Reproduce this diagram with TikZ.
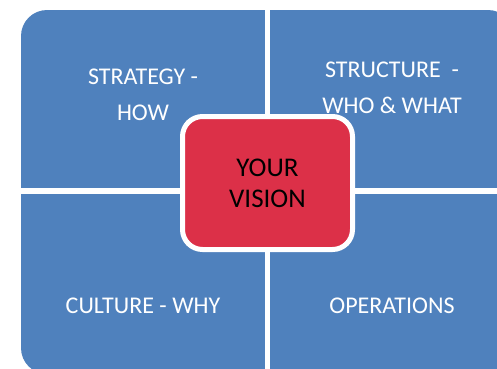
\documentclass[tikz,border=0pt]{standalone}
\usepackage{fontspec}
\setmainfont{Carlito}
\definecolor{quadblue}{RGB}{79,129,189}
\definecolor{visionred}{RGB}{220,48,72}

\begin{document}
\begin{tikzpicture}[
        x=1pt, y=-1pt,
        quadlabel/.style={text=white, align=center, font=\fontsize{24}{36}\selectfont},
        vision/.style={draw=white, line width=5pt, fill=visionred, rounded corners=20pt, minimum width=170pt, minimum height=133pt, align=center, font=\fontsize{27}{31}\selectfont}
    ]
    \useasboundingbox (0,0) rectangle (497,368);
    \clip (0,0) rectangle (497,368);

    % Quadrants
    \fill[quadblue, rounded corners=26pt] (21,10) rectangle (514,374);
    \fill[white] (265,0) rectangle (270,374);
    \fill[white] (0,188) rectangle (514,194);

    % Nodes
    \node[quadlabel] (strategy) at (143,95) {STRATEGY -\\HOW};
    \node[quadlabel] (structure) at (392,88) {STRUCTURE~~-\\WHO \& WHAT};
    \node[quadlabel] (culture) at (143,306) {CULTURE - WHY};
    \node[quadlabel] (operations) at (392,306) {OPERATIONS};
    \node[vision] (yourvision) at (267.5,183) {YOUR\\VISION};

\end{tikzpicture}
\end{document}
